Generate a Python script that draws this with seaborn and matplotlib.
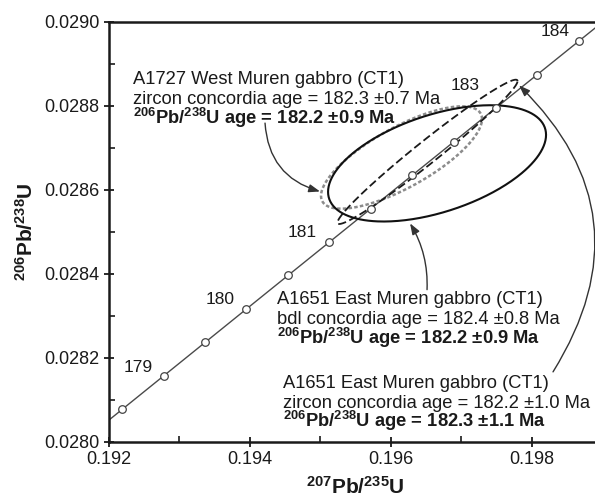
import numpy as np
import pandas as pd
import matplotlib
matplotlib.use("Agg")
import matplotlib.pyplot as plt
from matplotlib.ticker import MultipleLocator, FormatStrFormatter
import seaborn as sns

# U decay constants (1/yr)
LAMBDA_238 = 1.55125e-10
LAMBDA_235 = 9.8485e-10

# concordia age markers (Ma) and the ages that carry a label
marker_ages = [178.5, 179.0, 179.5, 180.0, 180.5, 181.0, 181.5,
               182.0, 182.5, 183.0, 183.5, 184.0]
label_ages = [179, 180, 181, 183, 184]
label_offsets_pt = [(-18, 6), (-19, 6.5), (-19.5, 6.5), (-22, 16), (-17, 7)]

# error ellipses: 207Pb/235U, 206Pb/238U, half-extents and correlation
ell_x = [0.19666, 0.196525, 0.196156]
ell_y = [0.028663, 0.0286905, 0.028677]
ell_sx = [0.001546, 0.001277, 0.001142]
ell_sy = [0.0001386, 0.000172, 0.000122]
ell_rho = [0.49, 0.98, 0.75]
ell_color = ["#111111", "#1a1a1a", "#8c8c8c"]
ell_lw = [1.5, 1.3, 1.8]
ell_ls = ["-", (0, (4.5, 2.0)), (0, (1.4, 0.9))]

PM = "\u00b1"
ISO68 = r"$^{\mathbf{206}}$Pb/$^{\mathbf{238}}$U"
block_a1727 = ["A1727 West Muren gabbro (CT1)",
               f"zircon concordia age = 182.3 {PM}0.7 Ma",
               f"{ISO68} age = 182.2 {PM}0.9 Ma"]
block_a1651_bdl = ["A1651 East Muren gabbro (CT1)",
                   f"bdl concordia age = 182.4 {PM}0.8 Ma",
                   f"{ISO68} age = 182.2 {PM}0.9 Ma"]
block_a1651_zr = ["A1651 East Muren gabbro (CT1)",
                  f"zircon concordia age = 182.2 {PM}1.0 Ma",
                  f"{ISO68} age = 182.3 {PM}1.1 Ma"]


def concordia(age_ma):
    t = np.asarray(age_ma, dtype=float) * 1e6
    return np.expm1(LAMBDA_235 * t), np.expm1(LAMBDA_238 * t)


def ellipse_path(cx, cy, sx, sy, rho, n=361):
    t = np.linspace(0, 2 * np.pi, n)
    x = cx + sx * np.cos(t)
    y = cy + sy * (rho * np.cos(t) + np.sqrt(1 - rho ** 2) * np.sin(t))
    return x, y


sns.set_theme(style="ticks")
plt.rcParams["font.family"] = ["Liberation Sans", "DejaVu Sans"]
plt.rcParams["mathtext.fontset"] = "custom"
plt.rcParams["mathtext.rm"] = "Liberation Sans"
plt.rcParams["mathtext.bf"] = "Liberation Sans:bold"
plt.rcParams["mathtext.it"] = "Liberation Sans:italic"

fig = plt.figure(figsize=(5.95, 5.0), dpi=100)
ax = fig.add_axes([0.1824, 0.117, 0.8294, 0.839])

# concordia curve
curve_age = np.linspace(178.0, 185.5, 600)
cx, cy = concordia(curve_age)
curve = pd.DataFrame({"r75": cx, "r68": cy})
sns.lineplot(data=curve, x="r75", y="r68", sort=False, color="#4a4a4a",
             lw=1.0, ax=ax, zorder=2)

# error ellipses
for i in range(len(ell_x)):
    ex, ey = ellipse_path(ell_x[i], ell_y[i], ell_sx[i], ell_sy[i], ell_rho[i])
    ax.plot(ex, ey, color=ell_color[i], lw=ell_lw[i], linestyle=ell_ls[i],
            zorder=3 - 0.1 * i)

# age markers on the concordia
mx, my = concordia(marker_ages)
marks = pd.DataFrame({"r75": mx, "r68": my})
sns.scatterplot(data=marks, x="r75", y="r68", s=30, facecolor="white",
                edgecolor="#444444", linewidth=0.9, ax=ax, zorder=4)

lx, ly = concordia(label_ages)
for age, x, y, off in zip(label_ages, lx, ly, label_offsets_pt):
    ax.annotate(f"{age}", (x, y), xytext=off, textcoords="offset points",
                ha="center", va="center", fontsize=12.5, color="#1a1a1a")


# sample annotations
def text_block(lines, x, y, step_pt=14.2):
    for k, line in enumerate(lines):
        ax.annotate(line, (x, y), xytext=(0, -step_pt * k),
                    textcoords="offset points", ha="left", va="baseline",
                    fontsize=13.2, color="#1a1a1a",
                    fontweight="bold" if k == 2 else "normal")


text_block(block_a1727, 0.19235, 0.028852)
text_block(block_a1651_bdl, 0.19439, 0.028327)
text_block(block_a1651_zr, 0.19448, 0.028128)

arrow_kw = dict(arrowstyle="-|>,head_length=0.55,head_width=0.2",
                color="#333333", lw=1.0, shrinkA=0, shrinkB=0)
ax.annotate("", xy=(0.19500, 0.028596), xytext=(0.19422, 0.028759),
            arrowprops=dict(connectionstyle="arc3,rad=0.35", **arrow_kw))
ax.annotate("", xy=(0.196277, 0.028520), xytext=(0.196518, 0.028362),
            arrowprops=dict(connectionstyle="arc3,rad=0.15", **arrow_kw))
ax.annotate("", xy=(0.197823, 0.028849), xytext=(0.198305, 0.028166),
            arrowprops=dict(connectionstyle="arc3,rad=0.4", **arrow_kw))

ax.set_xlim(0.192, 0.199)
ax.set_ylim(0.0280, 0.0290)
ax.xaxis.set_major_locator(MultipleLocator(0.002))
ax.xaxis.set_minor_locator(MultipleLocator(0.001))
ax.yaxis.set_major_locator(MultipleLocator(0.0002))
ax.yaxis.set_minor_locator(MultipleLocator(0.0001))
ax.xaxis.set_major_formatter(FormatStrFormatter("%.3f"))
ax.yaxis.set_major_formatter(FormatStrFormatter("%.4f"))
ax.tick_params(which="major", direction="inout", length=7, width=1.3,
               labelsize=13, pad=3, colors="#1a1a1a")
ax.tick_params(which="minor", direction="in", length=4, width=1.2,
               colors="#1a1a1a")
ax.tick_params(top=False, right=False, which="both")
for side in ["left", "bottom", "top", "right"]:
    ax.spines[side].set_linewidth(1.8)
    ax.spines[side].set_color("#1a1a1a")
ax.grid(False)

ax.set_xlabel(r"$^{\mathbf{207}}$Pb/$^{\mathbf{235}}$U", fontsize=15,
              fontweight="bold", color="#1a1a1a")
ax.set_ylabel(ISO68, fontsize=15, fontweight="bold", color="#1a1a1a")
ax.xaxis.set_label_coords(0.5, -0.082)
ax.yaxis.set_label_coords(-0.145, 0.5)

fig.savefig("out.png", dpi=100, facecolor="white")
